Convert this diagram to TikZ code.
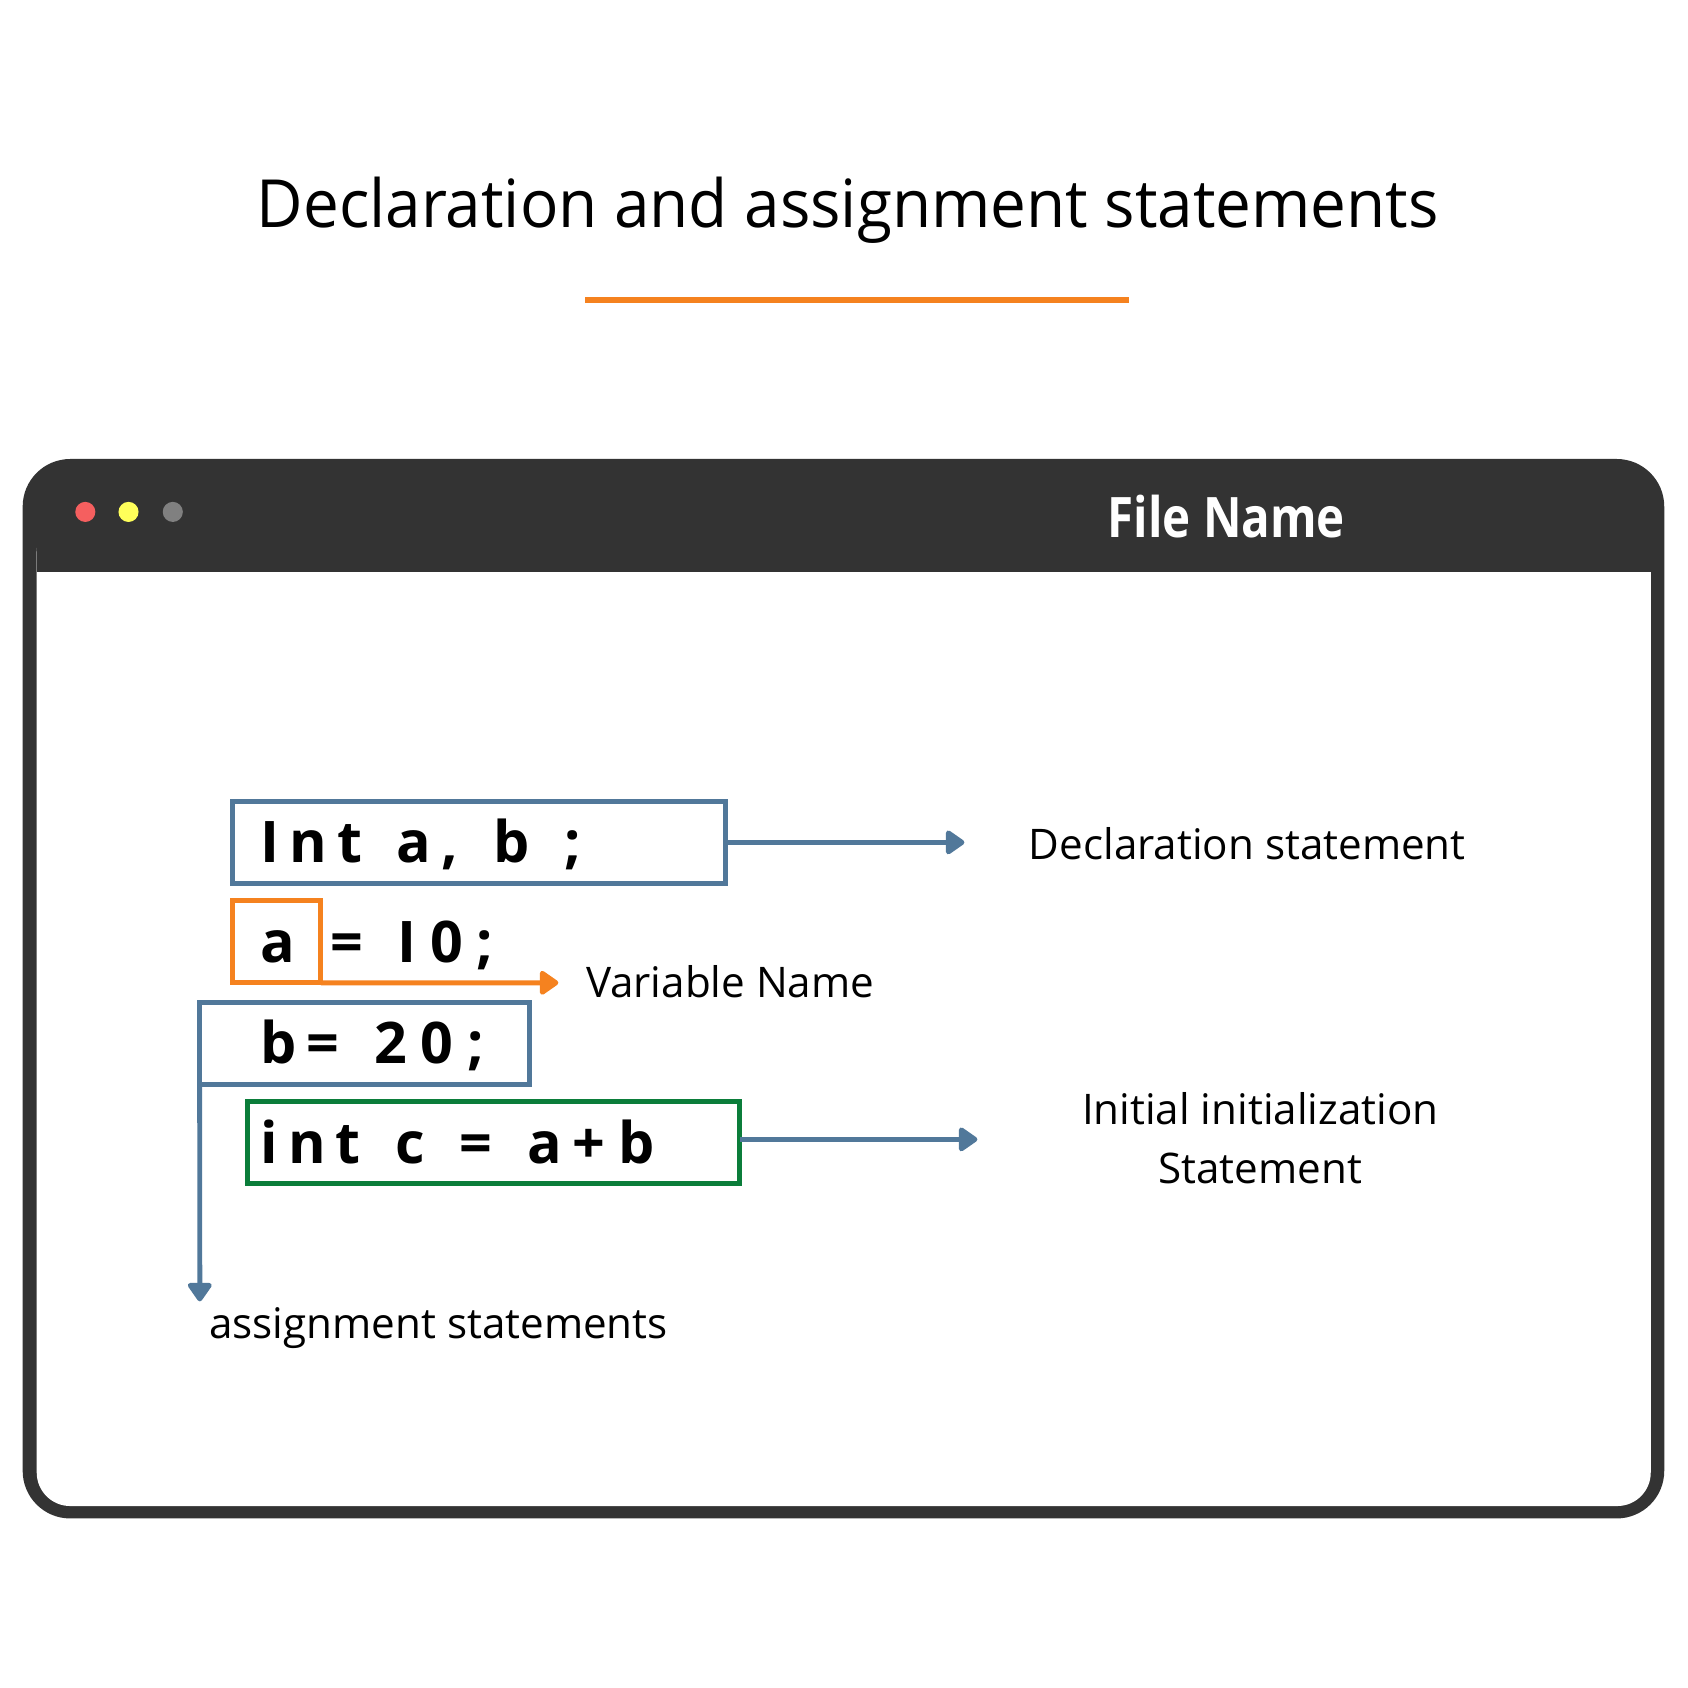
\documentclass[tikz,border=0pt]{standalone}
\usepackage{fontspec}
\setmainfont{Open Sans}
\newfontfamily\titlefont{Open Sans}[FakeStretch=0.96]
\newfontfamily\fnamefont{Open Sans}[FakeStretch=0.85]
\usetikzlibrary{arrows.meta}
\definecolor{steel}{HTML}{51789A}
\definecolor{orng}{HTML}{F5821F}
\definecolor{grn}{HTML}{0B7D3A}
\definecolor{dark}{HTML}{333333}
\definecolor{dotred}{HTML}{F55F5F}
\definecolor{dotyel}{HTML}{FFFF5A}
\definecolor{dotgry}{HTML}{808080}
\newcommand\kgap{\hspace{2.6pt}}
\newcommand\dgap{\hspace{3.6pt}}
\newcommand\wgap{\hspace{9.2pt}}
\tikzset{
  codebox/.style={draw, line width=1.3pt, outer sep=0pt, minimum height=0.76cm, inner ysep=0pt,
    text height=0.38cm, text depth=0pt, align=left,
    font=\fontsize{15.1pt}{18pt}\selectfont\bfseries},
  codetext/.style={inner sep=0pt, text height=0.38cm, text depth=0pt,
    font=\fontsize{15.1pt}{18pt}\selectfont\bfseries},
  lbl/.style={inner sep=0pt, anchor=base west, font=\fontsize{11.1pt}{15.4pt}\selectfont},
  conn/.style={line width=1.3pt, -{Triangle[length=0.19cm,width=0.25cm,round]}},
}
\begin{document}
\begin{tikzpicture}[x=0.01cm,y=-0.01cm]
\useasboundingbox[fill=white] (0,0) rectangle (1563,1563);
% title
\node[inner sep=0pt, anchor=base, font=\fontsize{17.5pt}{20pt}\titlefont] (title) at (785,211) {Declaration and assignment statements};
\draw[orng, line width=1.7pt] (542,278) -- (1045,278);
% window
\fill[dark, rounded corners=0.44cm] (21,425) rectangle (1541,1406);
\fill[white, rounded corners=0.31cm] (34,480) rectangle (1528.5,1394.5);
\fill[dark] (34,470) rectangle (1528.5,530);
\fill[dotred] (79,474) circle (9.3);
\fill[dotyel] (119,474) circle (9.3);
\fill[dotgry] (160,474) circle (9.3);
\node[inner sep=0pt, anchor=base west, text=white, font=\fontsize{14.7pt}{17pt}\fnamefont\bfseries] (fname) at (1025,498) {File Name};
% code boxes
\node[codebox, steel, text=black, inner xsep=0.265cm, text width=4.04cm] (decl) at (443.5,780)
  {I\kgap n\kgap t\wgap a\kgap ,\wgap b\wgap ;};
\node[codebox, orng, text=black, inner xsep=0.265cm, text width=0.29cm] (var) at (256,872) {a};
\node[codetext, anchor=west] (rest) at (305,872) {=\wgap I\dgap 0\dgap ;};
\node[codebox, steel, text=black, inner xsep=0.565cm, text width=1.92cm] (asg) at (337.5,966)
  {\mbox{b\kgap =\wgap 2\dgap 0\dgap ;}};
\node[codebox, grn, text=black, inner xsep=0.125cm, text width=4.31cm] (init) at (457,1058)
  {i\kgap n\kgap t\wgap c\wgap =\wgap a\kgap +\dgap b};
% labels
\node[lbl] (ldecl) at (952,796) {Declaration statement};
\node[lbl] (lvar) at (542,924) {Variable Name};
\node[inner sep=0pt, align=center, font=\fontsize{11.1pt}{15.4pt}\selectfont] (linit) at (1167,1054) {Initial initialization\\Statement};
\node[lbl] (lasg) at (193,1239) {assignment statements};
% connector ends
\coordinate (sinit) at (687,1055);
\coordinate (tdecl) at (893,780);
\coordinate (tvar) at (517,910);
\coordinate (tinit) at (905,1055);
\coordinate (tasg) at (185,1205);
\draw[conn, steel] (decl.east) -- (tdecl);
\draw[conn, orng] (var.south east) -- (tvar);
\draw[conn, steel] (init.east |- sinit) -- (tinit);
\draw[conn, steel] (asg.south west) -- (tasg);
\end{tikzpicture}
\end{document}
